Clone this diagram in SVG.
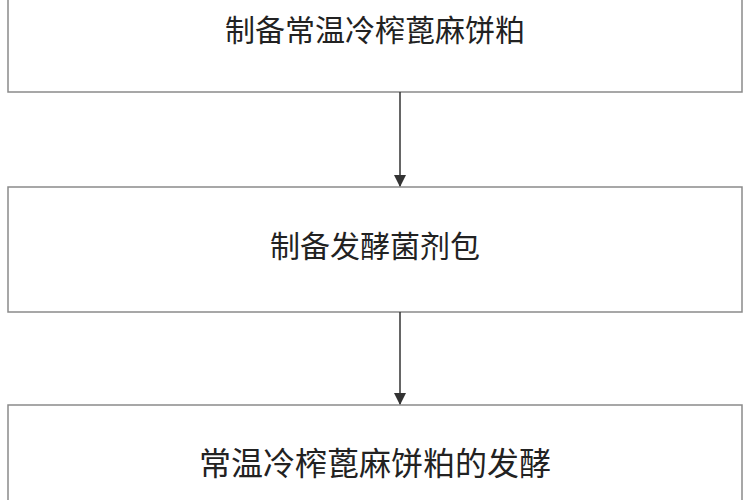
<svg xmlns="http://www.w3.org/2000/svg" width="750" height="500" viewBox="0 0 750 500">
<style>
.box{fill:#fff;stroke:#8a8a8a;stroke-width:1.5}
.t{font-family:"Liberation Serif","Noto Sans CJK SC",serif;font-size:30px;fill:#222;text-anchor:middle;dominant-baseline:central}
.c{stroke:#333;stroke-width:1.5;fill:none}
</style>
<defs><marker id="a" markerWidth="12" markerHeight="12" refX="11" refY="6" orient="auto" markerUnits="userSpaceOnUse"><path d="M0,0 L12,6 L0,12 Z" fill="#333"/></marker></defs>
<rect width="750" height="500" fill="#fff"/>
<g id="n1"><rect class="box" x="8" y="-2" width="734" height="94"/><text class="t" x="375" y="30">制备常温冷榨蓖麻饼粕</text></g>
<g id="n2"><rect class="box" x="8" y="187" width="734" height="125"/><text class="t" x="375" y="246">制备发酵菌剂包</text></g>
<g id="n3"><rect class="box" x="8" y="405" width="734" height="100"/><text class="t" x="375" y="464" style="font-size:32px">常温冷榨蓖麻饼粕的发酵</text></g>
<g id="connectors"><line class="c" x1="400" y1="92" x2="400" y2="186" marker-end="url(#a)"/><line class="c" x1="400" y1="312" x2="400" y2="404" marker-end="url(#a)"/></g>
</svg>
